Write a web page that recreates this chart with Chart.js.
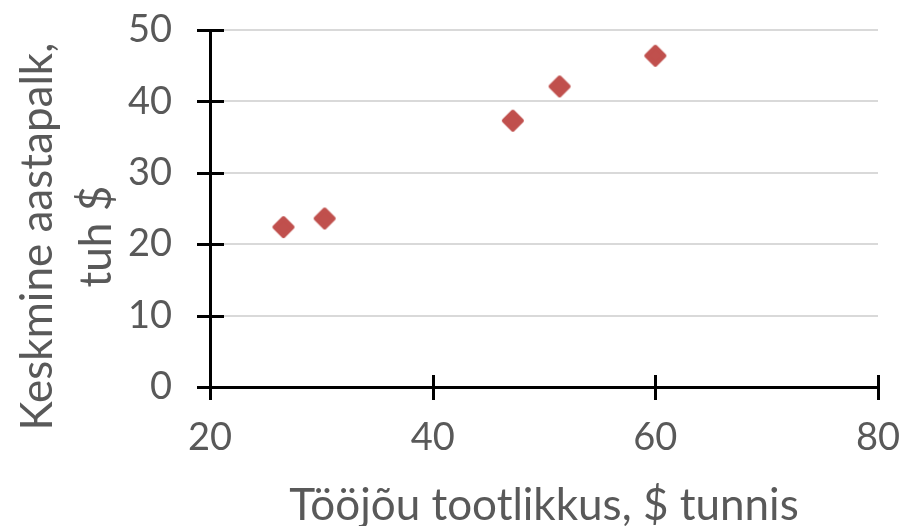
<!DOCTYPE html>
<html>
<head>
<meta charset="utf-8">
<script src="https://cdn.jsdelivr.net/npm/chart.js@4"></script>
<style>
  body { margin: 0; background: #fff; }
  #wrap { width: 905px; height: 526px; }
</style>
</head>
<body>
<div id="wrap"><canvas id="myChart"></canvas></div>
<script>
// productivity ($ per hour) vs average annual wage (thousand $)
const productivity = [26.6, 30.3, 47.2, 51.4, 60.0];
const wages = [22.4, 23.6, 37.3, 42.1, 46.4];
const xTicks = [20, 40, 60, 80];
const yTicks = [0, 10, 20, 30, 40, 50];

let ctx = document.getElementById('myChart');

// diamond marker with softened corners
function makeDiamond(size, color) {
  const cv = document.createElement('canvas');
  cv.width = size; cv.height = size;
  const g = cv.getContext('2d');
  const h = size / 2, r = h - 3;
  g.fillStyle = color;
  g.strokeStyle = color;
  g.lineWidth = 4;
  g.lineJoin = 'round';
  g.beginPath();
  g.moveTo(h, h - r);
  g.lineTo(h + r, h);
  g.lineTo(h, h + r);
  g.lineTo(h - r, h);
  g.closePath();
  g.fill();
  g.stroke();
  return cv;
}

// excel style tick marks crossing the axis line
const crossTicks = {
  id: 'crossTicks',
  beforeDatasetsDraw(chart) {
    const c = chart.ctx;
    const xs = chart.scales.x, ys = chart.scales.y;
    const x0 = xs.left, y0 = ys.bottom;
    c.save();
    c.strokeStyle = '#000';
    c.lineWidth = 3;
    c.beginPath();
    yTicks.forEach(v => {
      const y = Math.round(ys.getPixelForValue(v)) + 0.5;
      c.moveTo(x0 - 13, y);
      c.lineTo(x0 + 14, y);
    });
    xTicks.forEach(v => {
      const x = Math.round(xs.getPixelForValue(v)) + 0.5;
      c.moveTo(x, y0 - 12);
      c.lineTo(x, y0 + 13);
    });
    c.stroke();
    c.restore();
  }
};

new Chart(ctx, {
  type: 'scatter',
  data: {
    datasets: [{
      data: productivity.map((x, i) => ({ x: x, y: wages[i] })),
      backgroundColor: '#C0504D',
      borderColor: '#C0504D',
      pointStyle: makeDiamond(24, '#C0504D'),
      pointRadius: 12,
      pointHoverRadius: 12
    }]
  },
  options: {
    responsive: true,
    maintainAspectRatio: false,
    animation: false,
    layout: { padding: { top: 30, right: 27, left: 0, bottom: 0 } },
    plugins: { legend: { display: false }, tooltip: { enabled: false } },
    scales: {
      x: {
        type: 'linear',
        min: 20, max: 80,
        afterBuildTicks: s => { s.ticks = xTicks.map(v => ({ value: v })); },
        afterFit: s => { s.height = 139; s.paddingLeft = 0; s.paddingRight = 0; },
        grid: { display: false, drawTicks: false },
        border: { color: '#000', width: 3 },
        ticks: { padding: 28, color: '#595959', font: { family: 'Lato', size: 38 } },
        title: {
          display: true,
          text: 'Tööjõu tootlikkus, $ tunnis',
          color: '#595959',
          font: { family: 'Lato', size: 44 },
          padding: { top: 0, bottom: -6 }
        }
      },
      y: {
        min: 0, max: 50,
        afterBuildTicks: s => { s.ticks = yTicks.map(v => ({ value: v })); },
        afterFit: s => { s.width = 210; s.paddingTop = 0; s.paddingBottom = 0; },
        grid: { color: '#D9D9D9', lineWidth: 2, drawTicks: false },
        border: { color: '#000', width: 3 },
        ticks: { padding: 38, color: '#595959', font: { family: 'Lato', size: 38 } },
        title: {
          display: true,
          // trailing spaces nudge the rotated text down like the original
          text: ['Keskmine aastapalk,     ', 'tuh $     '],
          color: '#595959',
          font: { family: 'Lato', size: 44, lineHeight: 1.34 },
          padding: { top: 8, bottom: 0 }
        }
      }
    }
  },
  plugins: [crossTicks]
});
</script>
</body>
</html>
